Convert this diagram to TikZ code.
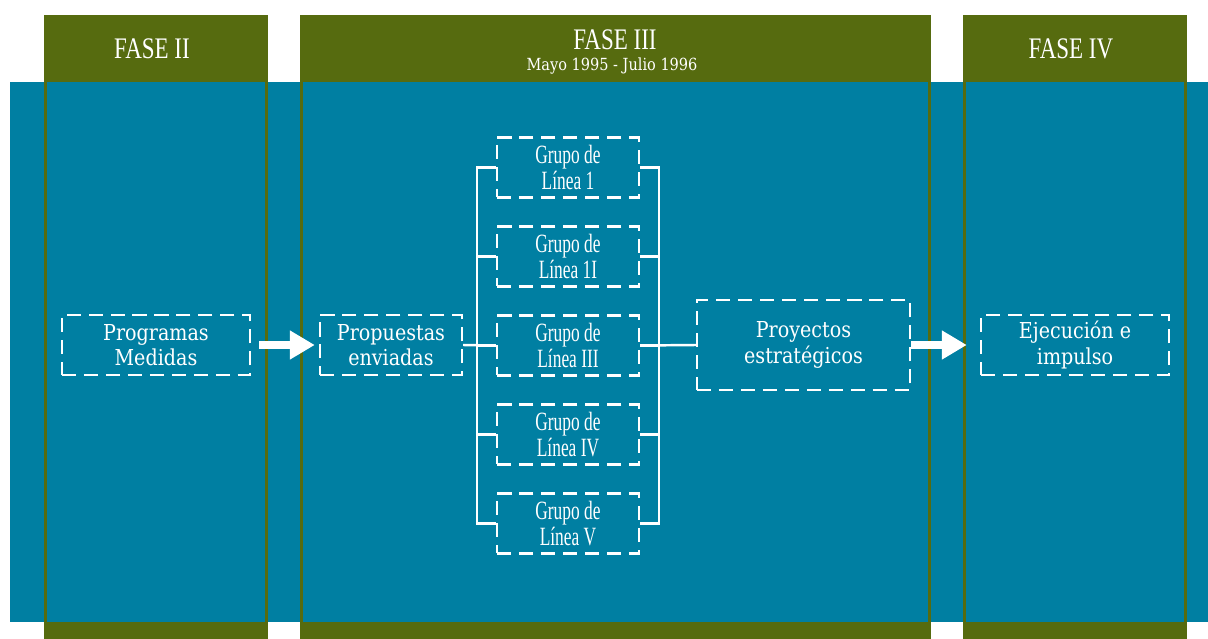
\documentclass[tikz,border=0pt]{standalone}
\usepackage{xcolor}
\usepackage{fontspec}
\setmainfont{DejaVu Serif}[FakeStretch=0.87]
\newfontfamily\condfont[FakeStretch=0.77]{Liberation Serif}
\newfontfamily\grpfont[FakeStretch=0.66]{Liberation Serif}
\usepackage{tikz}
\usetikzlibrary{arrows.meta}
\definecolor{faseGreen}{RGB}{86,107,15}
\definecolor{bandTeal}{RGB}{0,127,162}

\begin{document}
\begin{tikzpicture}[x=0.02cm, y=-0.02cm,
		every node/.style={text=white, align=center, inner sep=0pt},
		dashbox/.style={draw=white, line width=1.4pt, dash pattern=on 8pt off 4.5pt,
			font=\fontsize{12.5}{14.5}\selectfont},
		groupbox/.style={dashbox, minimum width=2.84cm, minimum height=1.2cm,
			font=\grpfont\fontsize{15}{14.5}\selectfont},
		fasetitle/.style={font=\condfont\fontsize{17}{17}\selectfont},
		link/.style={draw=white, line width=1.4pt},
		bigarrow/.style={white, line width=0.15cm, -{Triangle[length=0.5cm, width=0.55cm]}}]
		\useasboundingbox (0,0) rectangle (1208,639);
		% phase columns and band
		\foreach \xa/\xb in {44/268, 300/931, 963/1187}
			\fill[faseGreen] (\xa,15) rectangle (\xb,639);
		\fill[bandTeal] (10,82) rectangle (1208,622);
		\foreach \xa/\xb in {44/268, 300/931, 963/1187}
			\draw[faseGreen, line width=0.06cm] (\xa+1.5,82) -- (\xa+1.5,622) (\xb-1.5,82) -- (\xb-1.5,622);
		\node[fasetitle] (f2) at (152,49) {FASE II};
		\node[fasetitle] (f3) at (615,40) {FASE III};
		\node[font=\fontsize{9.5}{9.5}\selectfont] (f3date) at (612,66) {Mayo 1995 - Julio 1996};
		\node[fasetitle] (f4) at (1071,49) {FASE IV};
		% boxes
		\node[dashbox, minimum width=3.76cm, minimum height=1.2cm] (prog) at (156,345) {Programas\\Medidas};
		\node[dashbox, minimum width=2.84cm, minimum height=1.2cm] (prop) at (391,345) {Propuestas\\enviadas};
		\foreach \i/\num in {1/1, 2/1I, 3/III, 4/IV, 5/V}
			\node[groupbox] (g\i) at (568,167.5+89*\i-89) {Grupo de\\Línea \num};
		\node[dashbox, minimum width=4.26cm, minimum height=1.8cm] (proj) at (803.5,345) {Proyectos\\estratégicos};
		\node[dashbox, minimum width=3.76cm, minimum height=1.2cm] (ejec) at (1075,345) {Ejecución e\\impulso};
		% brackets
		\draw[link] (g1.west) -- ++(-19,0) |- (g5.west);
		\draw[link] (g1.east) -- ++(19,0) |- (g5.east);
		\foreach \i in {2,3,4} {
			\draw[link] (g\i.west) -- ++(-19,0);
			\draw[link] (g\i.east) -- ++(19,0);
		}
		\draw[link] (prop.east) -- (g3.west);
		\draw[link] (g3.east) -- (proj.west);
		\draw[bigarrow, shorten <=0.16cm, shorten >=0.08cm] (prog.east) -- (prop.west);
		\draw[bigarrow, shorten >=0.26cm] (proj.east) -- (ejec.west);
	\end{tikzpicture}
\end{document}
